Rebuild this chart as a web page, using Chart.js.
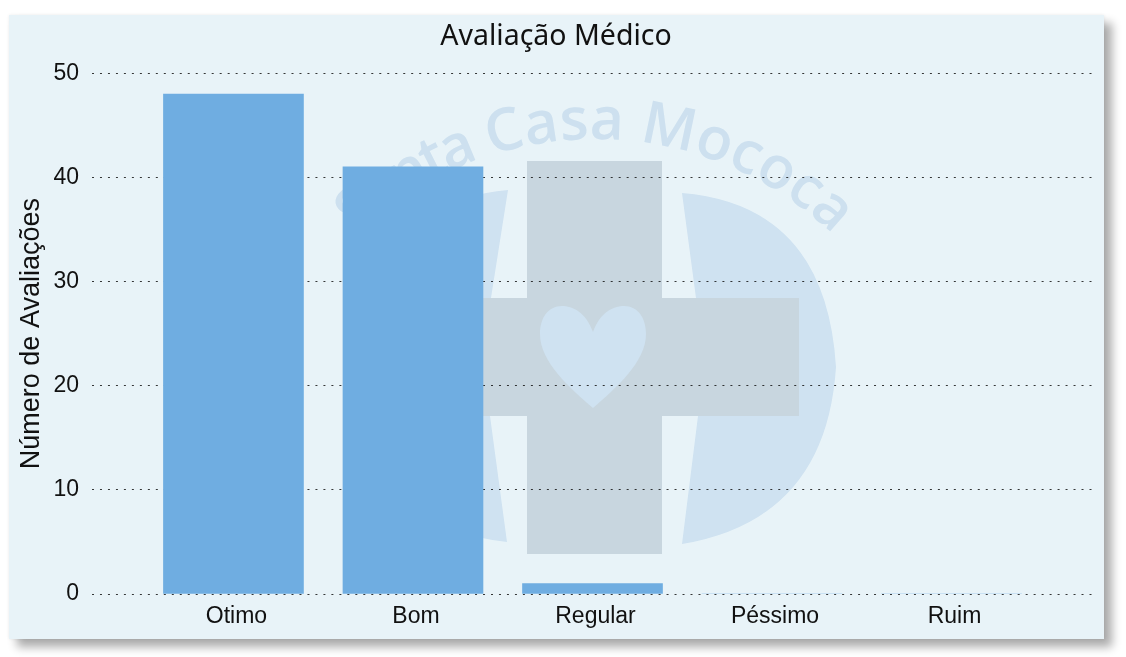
<!DOCTYPE html>
<html lang="pt">
<head>
<meta charset="utf-8">
<title>Avaliação Médico</title>
<script src="https://cdn.jsdelivr.net/npm/chart.js@4"></script>
<style>
  html,body{margin:0;padding:0;background:#fff;width:1126px;height:657px;overflow:hidden}
  #card{position:absolute;left:9px;top:15px;width:1095px;height:624px;background:#e8f3f8;
        box-shadow:8px 8px 9px rgba(0,0,0,.33),0 0 3px rgba(0,0,0,.08)}
  #mark{position:absolute;left:0;top:0}
  #wrap{position:absolute;left:0;top:0;width:1126px;height:657px}
  #wrap canvas{display:block}
</style>
</head>
<body>
<div id="card"></div>
<svg id="mark" width="1126" height="657" viewBox="0 0 1126 657" aria-hidden="true">
  <defs>
    <path id="arc" d="M 282 339 A 345 345 0 0 1 908 339"/>
    <filter id="soft"><feGaussianBlur stdDeviation="0.7"/></filter>
  </defs>
  <g filter="url(#soft)">
    <path d="M682 193 Q826 205 836 367 Q826 520 682 544 L698 416 L696 298 Z" fill="#cfe2f1"/>
    <path d="M508 190 Q355 205 344 367 Q355 525 507 542 L490 416 L491 298 Z" fill="#cfe2f1"/>
    <path d="M527 161H662V298H799V416H662V554H527V416H389V298H527Z" fill="#c8d6df"/>
    <path d="M593 332C586 312 572 306 562 306C548 306 540 318 540 334C540 362 570 388 593 408C616 388 646 362 646 334C646 318 638 306 624 306C614 306 600 312 593 332Z" fill="#cfe2f1"/>
    <text font-family="'Open Sans','Liberation Sans',sans-serif" font-size="59" font-weight="600" fill="#cde0ef">
      <textPath href="#arc" startOffset="50%" text-anchor="middle"><tspan letter-spacing="-4">Santa</tspan> Casa Mococa</textPath>
    </text>
  </g>
</svg>
<div id="wrap"><canvas id="chart" width="1126" height="657"></canvas></div>
<script>
const chartTitle = "Avaliação Médico";
const yAxisTitle = "Número de Avaliações";
const categories = ["Otimo", "Bom", "Regular", "Péssimo", "Ruim"];
const avaliacoes = [48, 41, 1, 0, 0];
const barColor = "#6fade1";
const inkColor = "#111111";

new Chart(document.getElementById("chart"), {
  type: "bar",
  data: {
    datasets: [{
      data: categories.map((c, i) => ({ x: i, y: avaliacoes[i] })),
      backgroundColor: barColor,
      borderWidth: 0,
      barThickness: 140
    }]
  },
  options: {
    responsive: false,
    animation: false,
    layout: { padding: { top: 0, right: 33, bottom: 0, left: 19 } },
    plugins: {
      legend: { display: false },
      tooltip: { enabled: false },
      title: {
        display: true,
        text: chartTitle,
        color: inkColor,
        font: { family: "Noto Sans", size: 28.5, weight: "400" },
        padding: { top: 20, bottom: 19 }
      }
    },
    scales: {
      x: {
        type: "linear",
        offset: false,
        min: -0.788,
        max: 4.788,
        afterBuildTicks: s => { s.ticks = categories.map((c, i) => ({ value: i })); },
        afterFit: s => { s.height = 63; },
        grid: { display: false, offset: false },
        border: { display: false },
        ticks: {
          autoSkip: false,
          maxRotation: 0,
          labelOffset: 3,
          padding: 1,
          color: inkColor,
          font: { family: "Liberation Sans", size: 23 },
          callback: v => categories[v]
        }
      },
      y: {
        min: 0,
        max: 50,
        afterFit: s => { s.width = 73; },
        border: { display: false, dash: [2, 5.98] },
        grid: { color: "rgba(20,20,20,0.85)", drawTicks: false, lineWidth: 1 },
        ticks: {
          stepSize: 10,
          padding: 13,
          color: inkColor,
          font: { family: "Liberation Sans", size: 23 }
        },
        title: {
          display: true,
          text: yAxisTitle,
          color: inkColor,
          font: { family: "Liberation Sans", size: 27 },
          padding: { top: -4, bottom: 0 }
        }
      }
    }
  }
});
</script>
</body>
</html>
